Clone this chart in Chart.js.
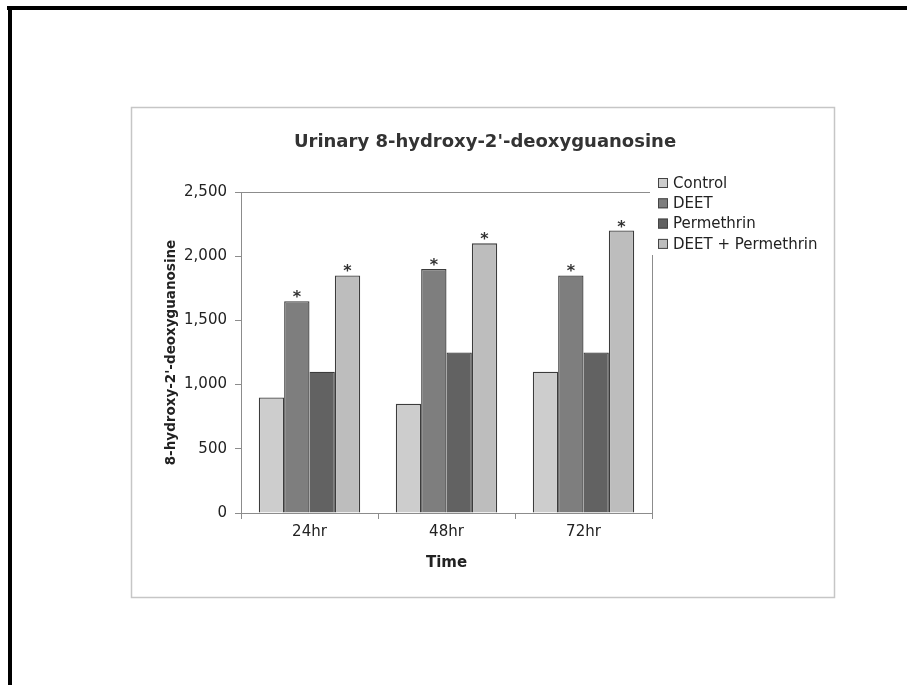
<!DOCTYPE html>
<html>
<head>
<meta charset="utf-8">
<title>Urinary 8-hydroxy-2'-deoxyguanosine</title>
<script src="https://cdn.jsdelivr.net/npm/chart.js@4.4.1/dist/chart.umd.min.js"></script>
<style>
  html, body { margin: 0; padding: 0; background: #fff; }
  #wrap { width: 907px; height: 685px; }
</style>
</head>
<body>
<div id="wrap"><canvas id="urineChart" width="907" height="685"></canvas></div>
<script>
const timePoints = ['24hr', '48hr', '72hr'];
const controlValues = [900, 850, 1100];
const deetValues = [1650, 1900, 1850];
const permethrinValues = [1100, 1250, 1250];
const comboValues = [1850, 2100, 2200];
const seriesNames = ['Control', 'DEET', 'Permethrin', 'DEET + Permethrin'];
const seriesColors = ['#cdcdcd', '#7e7e7e', '#626262', '#bdbdbd'];
const starred = [false, true, false, true]; // "*" over these series
const yMax = 2500;
const yStep = 500;
const chartTitle = "Urinary 8-hydroxy-2'-deoxyguanosine";
const yTitle = "8-hydroxy-2'-deoxyguanosine";
const xTitle = 'Time';

const FONT = "'DejaVu Sans', 'Liberation Sans', Arial, sans-serif";
const allValues = [controlValues, deetValues, permethrinValues, comboValues];

// page frame, title, legend and asterisks
const decor = {
    id: 'decor',
    beforeDraw(chart) {
        const ctx = chart.ctx;
        ctx.save();
        ctx.fillStyle = '#fff';
        ctx.fillRect(0, 0, chart.width, chart.height);
        ctx.fillStyle = '#000';
        ctx.fillRect(7, 6, chart.width - 7, 4);
        ctx.fillRect(8, 6, 4, chart.height - 6);
        ctx.strokeStyle = '#c6c6c6';
        ctx.lineWidth = 1.5;
        ctx.strokeRect(131.5, 107.5, 703, 490);
        ctx.restore();
    },
    afterDatasetsDraw(chart) {
        const ctx = chart.ctx;
        ctx.save();
        ctx.fillStyle = '#333';
        ctx.font = 'bold 16px ' + FONT;
        ctx.textAlign = 'center';
        ctx.textBaseline = 'alphabetic';
        chart.data.datasets.forEach((ds, i) => {
            if (!starred[i]) return;
            chart.getDatasetMeta(i).data.forEach(bar => {
                ctx.fillText('*', bar.x, bar.y + 1);
            });
        });
        ctx.restore();
    },
    afterDraw(chart) {
        const ctx = chart.ctx;
        const area = chart.chartArea;
        const topY = chart.scales.y.getPixelForValue(yMax);
        ctx.save();
        // plot area border (top + right)
        ctx.strokeStyle = '#8c8c8c';
        ctx.lineWidth = 1;
        ctx.beginPath();
        ctx.moveTo(area.left, topY + 0.5);
        ctx.lineTo(area.right - 2, topY + 0.5);
        ctx.moveTo(area.right + 0.5, 255);
        ctx.lineTo(area.right + 0.5, area.bottom);
        ctx.stroke();

        // title
        ctx.fillStyle = '#333';
        ctx.font = 'bold 18px ' + FONT;
        ctx.textAlign = 'center';
        ctx.textBaseline = 'middle';
        ctx.fillText(chartTitle, 485, 142);

        // legend
        ctx.font = '15px ' + FONT;
        ctx.textAlign = 'left';
        chart.data.datasets.forEach((ds, i) => {
            const y = 183 + i * 20.3;
            ctx.fillStyle = ds.backgroundColor;
            ctx.fillRect(658, y - 5, 10, 10);
            ctx.strokeStyle = '#444';
            ctx.lineWidth = 1;
            ctx.strokeRect(658.5, y - 4.5, 9, 9);
            ctx.fillStyle = '#222';
            ctx.fillText(ds.label, 673, y + 1);
        });
        ctx.restore();
    }
};

const canvasElement = document.getElementById('urineChart');
if (canvasElement) {
    new Chart(canvasElement.getContext('2d'), {
        type: 'bar',
        data: {
            labels: timePoints,
            datasets: seriesNames.map((name, i) => ({
                label: name,
                data: allValues[i],
                backgroundColor: seriesColors[i],
                borderColor: '#3c3c3c',
                borderWidth: 1.3,
                barPercentage: 1.0,
                categoryPercentage: 0.74
            }))
        },
        options: {
            responsive: false,
            animation: false,
            layout: { padding: { left: 163, right: 255, top: 192, bottom: 113 } },
            plugins: {
                legend: { display: false },
                title: { display: false },
                tooltip: { enabled: false }
            },
            scales: {
                x: {
                    afterFit: s => { s.height = 59; },
                    grid: { drawOnChartArea: false, tickLength: 6, color: '#8c8c8c' },
                    border: { color: '#8c8c8c' },
                    ticks: { color: '#222', padding: 4, font: { family: FONT, size: 15 } },
                    title: {
                        display: true, text: xTitle, color: '#222', padding: 0,
                        font: { family: FONT, size: 15, weight: 'bold' }
                    }
                },
                y: {
                    min: 0,
                    max: yMax,
                    afterFit: s => { s.width = 78; },
                    grid: { drawOnChartArea: false, tickLength: 6, color: '#8c8c8c' },
                    border: { color: '#8c8c8c' },
                    ticks: { stepSize: yStep, color: '#222', padding: 8, font: { family: FONT, size: 15 } },
                    title: {
                        display: true, text: yTitle, color: '#222', padding: 0,
                        font: { family: FONT, size: 13.5, weight: 'bold' }
                    }
                }
            }
        },
        plugins: [decor]
    });
} else {
    console.error('Canvas not found!');
}
</script>
</body>
</html>
